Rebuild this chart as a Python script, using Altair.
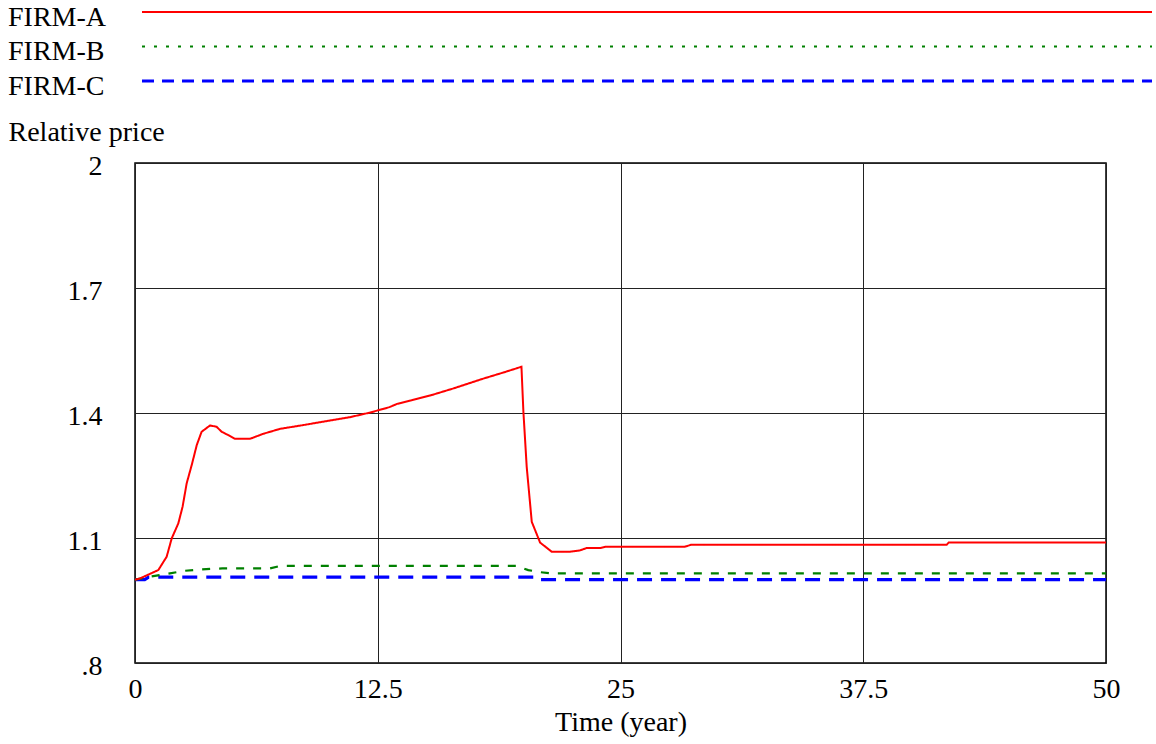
import altair as alt
import pandas as pd

firms = ["FIRM-A", "FIRM-B", "FIRM-C"]
colors = ["#ff0000", "#008000", "#0000ff"]

time_a = [0, 0.26, 0.77, 1.2, 1.63, 1.89, 2.23, 2.45, 2.66, 2.92, 3.18, 3.43, 3.86, 4.2,
          4.46, 4.8, 5.15, 5.92, 6.6, 7.47, 8.67, 10.04, 11.07, 12.1, 13.1, 13.5, 14.2,
          15.2, 16.4, 17.9, 18.96, 19.9, 20.0, 20.17, 20.43, 20.86, 21.46, 22.4, 22.9,
          23.26, 23.95, 24.25, 28.3, 28.66, 41.8, 41.9, 50]
price_a = [1.0, 1.003, 1.014, 1.023, 1.055, 1.099, 1.135, 1.175, 1.231, 1.275, 1.323,
           1.355, 1.370, 1.367, 1.355, 1.347, 1.338, 1.338, 1.350, 1.362, 1.371, 1.382,
           1.390, 1.401, 1.414, 1.422, 1.430, 1.442, 1.459, 1.482, 1.497, 1.511, 1.403,
           1.271, 1.139, 1.089, 1.067, 1.067, 1.070, 1.076, 1.076, 1.079, 1.079, 1.084,
           1.084, 1.089, 1.089]

time_b = [0, 0.77, 1.8, 2.5, 3.2, 3.9, 4.5, 6.95, 7.47, 19.65, 20.25, 20.86, 21.5, 50]
price_b = [1.0, 1.007, 1.015, 1.021, 1.024, 1.026, 1.027, 1.027, 1.033, 1.033, 1.023,
           1.018, 1.015, 1.015]

time_c = [0, 0.5, 0.7, 20.6, 20.7, 50]
price_c = [1.0, 1.0, 1.006, 1.006, 1.0, 1.0]

x_ticks = [0, 12.5, 25, 37.5, 50]
y_ticks = [0.8, 1.1, 1.4, 1.7, 2.0]

rows = []
for firm, ts, vs in zip(firms, [time_a, time_b, time_c], [price_a, price_b, price_c]):
    for i, (t, v) in enumerate(zip(ts, vs)):
        rows.append({"firm": firm, "time": t, "price": v, "order": i})
df = pd.DataFrame(rows)
legend_df = pd.DataFrame({"firm": firms, "row": list(range(len(firms)))})

FONT = "Liberation Serif"
FS = 28

# line styles per firm: (width, dash in plot, dash in legend)
styles = {
    "FIRM-A": (2, [1, 0], [1, 0]),
    "FIRM-B": (2.2, [8, 9], [3, 9]),
    "FIRM-C": (3.2, [15, 9], [12, 8]),
}

color_scale = alt.Scale(domain=firms, range=colors)

x_enc = alt.X("time:Q",
              scale=alt.Scale(domain=[0, 50], nice=False, zero=False),
              axis=alt.Axis(values=x_ticks, title="Time (year)",
                            labelExpr="format(datum.value, '~g')",
                            labelFlush=False, labelPadding=12, tickSize=0,
                            labelBaseline="top",
                            titleX=485.5, titleY=67, titleAlign="center",
                            titleBaseline="alphabetic"))
y_enc = alt.Y("price:Q",
              scale=alt.Scale(domain=[0.8, 2.0], nice=False, zero=False),
              axis=alt.Axis(values=y_ticks, title="Relative price",
                            labelExpr="datum.value < 1 ? replace(format(datum.value, '.1f'), '0.', '.') : format(datum.value, '~g')",
                            labelFlush=False, labelPadding=33, tickSize=0,
                            labelBaseline="middle", labelOffset=3,
                            titleAngle=0, titleAlign="left", titleBaseline="alphabetic",
                            titleX=-127, titleY=-23))

leg_y = alt.Y("row:Q", scale=alt.Scale(domain=[0, 2], range=[-151, -82], zero=False, nice=False),
              axis=None)

line_layers = []
rule_layers = []
for firm in reversed(firms):
    w, dash_plot, dash_leg = styles[firm]
    line_layers.append(
        alt.Chart(df).transform_filter(alt.datum.firm == firm)
        .mark_line(clip=True, strokeWidth=w, strokeDash=dash_plot)
        .encode(x=x_enc, y=y_enc,
                color=alt.Color("firm:N", scale=color_scale, legend=None),
                order="order:Q")
    )
    rule_layers.append(
        alt.Chart(legend_df).transform_filter(alt.datum.firm == firm)
        .mark_rule(clip=False, strokeWidth=w, strokeDash=dash_leg)
        .encode(x=alt.value(7), x2=alt.value(1017), y=leg_y,
                color=alt.Color("firm:N", scale=color_scale, legend=None))
    )

main = alt.layer(*line_layers)
legend_rules = alt.layer(*rule_layers)

legend_text = alt.Chart(legend_df).mark_text(
    align="left", baseline="alphabetic", dy=13.5, font=FONT, fontSize=FS,
    color="black", clip=False
).encode(
    x=alt.value(-127),
    y=leg_y,
    text="firm:N",
)

chart = alt.layer(main, legend_rules, legend_text).resolve_scale(
    y="independent"
).properties(
    width=971, height=500,
    autosize=alt.AutoSizeParams(type="none"),
    padding={"left": 135, "top": 163, "right": 50, "bottom": 81},
    background="white",
).configure_view(
    stroke="black", strokeWidth=1.5
).configure_axis(
    labelFont=FONT, titleFont=FONT, labelFontSize=FS, titleFontSize=FS,
    labelColor="black", titleColor="black", titleFontWeight="normal",
    gridColor="#222222", gridWidth=1, gridOpacity=1,
    domain=False, ticks=False, labelOverlap=False,
)

chart.save("out.html", embed_options={"renderer": "svg", "actions": False})
